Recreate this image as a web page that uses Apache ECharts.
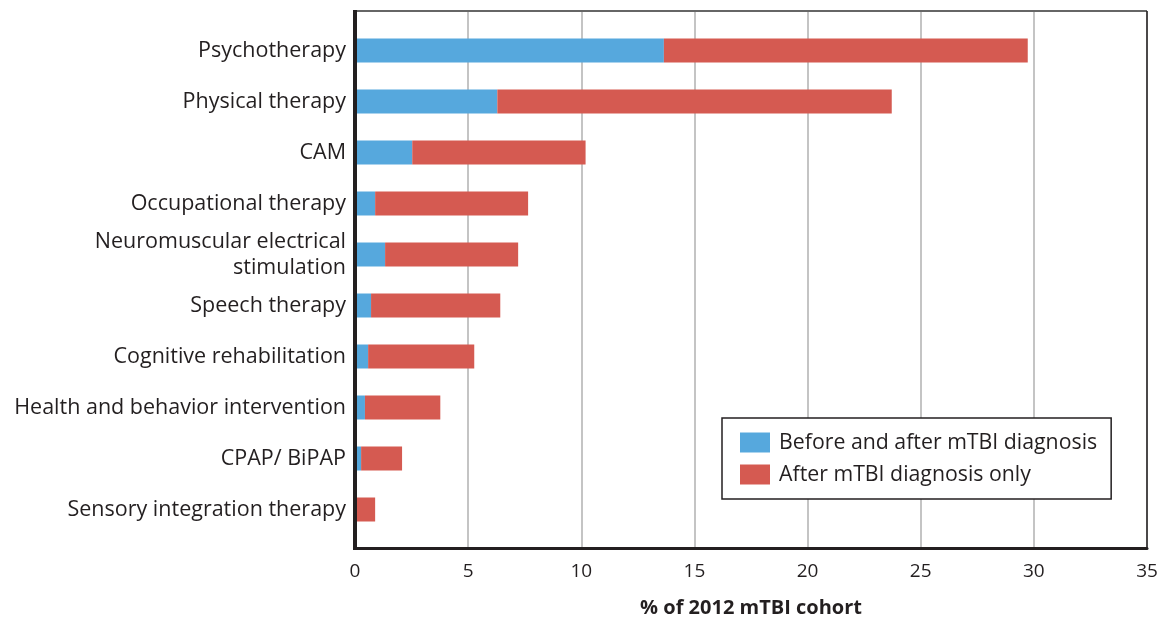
<!DOCTYPE html>
<html><head><meta charset="utf-8">
<script src="https://cdn.jsdelivr.net/npm/echarts@6/dist/echarts.min.js"></script>
<style>html,body{margin:0;padding:0;background:#fff}#c{width:1161px;height:618px}</style>
</head><body><div id="c"></div>
<script>
const categories = ["Psychotherapy","Physical therapy","CAM","Occupational therapy","Neuromuscular electrical\nstimulation","Speech therapy","Cognitive rehabilitation","Health and behavior intervention","CPAP/ BiPAP","Sensory integration therapy"];
const beforeAndAfter = [13.65, 6.29, 2.53, 0.89, 1.33, 0.71, 0.58, 0.44, 0.27, 0.08];
const totals = [29.73, 23.72, 10.19, 7.65, 7.21, 6.42, 5.27, 3.77, 2.08, 0.89];
const afterOnly = totals.map((t,i)=>+(t-beforeAndAfter[i]).toFixed(2));
const xTicks = [0,5,10,15,20,25,30,35];
const seriesNames = ["Before and after mTBI diagnosis","After mTBI diagnosis only"];

const font = "'Open Sans', 'Noto Sans', sans-serif";
const narrow = "'Liberation Sans Narrow', 'Open Sans', sans-serif";
const chart = echarts.init(document.getElementById('c'), null, {renderer:'canvas'});
chart.setOption({
  animation:false,
  grid:[
    {left:355, right:14, top:11, bottom:70, containLabel:false, outerBoundsMode:'none'},
    {left:355, right:14, top:25, bottom:83, containLabel:false, outerBoundsMode:'none'}
  ],
  xAxis:[
    {gridIndex:0, type:'value', min:xTicks[0], max:xTicks[xTicks.length-1], interval:5,
     axisLine:{show:true, lineStyle:{color:'#231f20', width:3}},
     axisTick:{show:false},
     splitLine:{show:true, lineStyle:{color:'#b0b0b0', width:1.5}},
     axisLabel:{color:'#231f20', fontSize:19, fontFamily:narrow, margin:14},
     name:'% of 2012 mTBI cohort', nameLocation:'middle', nameGap:50,
     nameTextStyle:{color:'#231f20', fontSize:20, fontWeight:'bold', fontFamily:narrow}
    },
    {gridIndex:1, type:'value', min:0, max:35, show:false}
  ],
  yAxis:[
    {gridIndex:0, type:'value', min:0, max:1, show:false},
    {gridIndex:1, type:'category', data:categories, inverse:true,
     axisLine:{show:false}, axisTick:{show:false},
     axisLabel:{color:'#231f20', fontSize:21.5, fontFamily:font, margin:9, lineHeight:26}}
  ],
  legend:{
    orient:'vertical', left:722, top:418,
    data:seriesNames,
    itemWidth:30, itemHeight:20, itemGap:11,
    padding:[14, 14, 14, 18],
    borderColor:'#231f20', borderWidth:1.5, backgroundColor:'#fff',
    icon:'rect',
    textStyle:{color:'#231f20', fontSize:21.3, fontFamily:font, padding:[0,0,0,4]}
  },
  graphic:[
    {type:'line', shape:{x1:355, y1:11, x2:1147, y2:11}, style:{stroke:'#666', lineWidth:2}, z:10},
    {type:'line', shape:{x1:1147, y1:11, x2:1147, y2:549}, style:{stroke:'#231f20', lineWidth:1.5}, z:10},
    {type:'line', shape:{x1:355, y1:10, x2:355, y2:550}, style:{stroke:'#231f20', lineWidth:4}, z:10}
  ],
  series:[
    {name:seriesNames[0], type:'bar', stack:'s', xAxisIndex:1, yAxisIndex:1, data:beforeAndAfter, barWidth:24, itemStyle:{color:'#56a8dd'}},
    {name:seriesNames[1], type:'bar', stack:'s', xAxisIndex:1, yAxisIndex:1, data:afterOnly, barWidth:24, itemStyle:{color:'#d55a51'}}
  ]
});
</script></body></html>
